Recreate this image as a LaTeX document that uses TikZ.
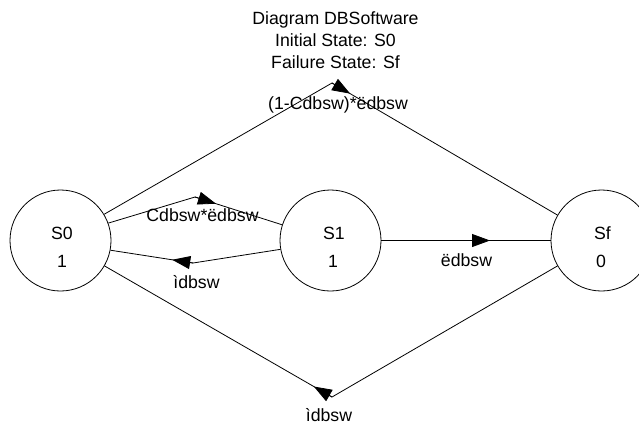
\documentclass[tikz,border=0pt]{standalone}
\usepackage{fontspec}
\setmainfont{Liberation Sans}
\usetikzlibrary{arrows.meta,calc}
\begin{document}
\begin{tikzpicture}[x=1bp,y=-1bp,
  state/.style={circle,draw,line width=0.8bp,minimum size=101bp,inner sep=0pt},
  link/.style={draw,line width=0.8bp},
  tipseg/.style={-{Triangle[length=18bp,width=13bp]},line width=0.8bp},
  lbl/.style={font=\fontsize{17.7bp}{22bp}\selectfont,inner sep=0pt,anchor=base}]
\useasboundingbox (0,0) rectangle (639,425);
\clip (0,0) rectangle (639,425);

% title block
\node[lbl] (title1) at (335.5,24.5) {Diagram DBSoftware};
\node[lbl] (title2) at (335.5,46.5) {Initial State: S0};
\node[lbl] (title3) at (335.5,68.5) {Failure State: Sf};

% states
\node[state] (s0) at (60.5,240.5) {};
\node[state] (s1) at (330.5,240.5) {};
\node[state] (sf) at (601.5,240.5) {};
\node[lbl] (s0name) at (62,239.5) {S0};
\node[lbl] (s0val)  at (62,267.5) {1};
\node[lbl] (s1name) at (334,239.5) {S1};
\node[lbl] (s1val)  at (333,267.5) {1};
\node[lbl] (sfname) at (602.5,239.5) {Sf};
\node[lbl] (sfval)  at (601,267.5) {0};

% bend points of the transitions
\coordinate (btop) at (332,83);
\coordinate (bup)  at (195,197);
\coordinate (blow) at (193,263);
\coordinate (bbot) at (332,397);
\coordinate (bmid) at ($(s1.0)!0.5!(sf.180)$);

% S0 -> Sf
\draw[link] (s0.31) -- (btop) -- (sf.150);
\draw[tipseg] (btop) -- ($(btop)!21bp!(sf.150)$);
\node[lbl] (l1) at (338,109.5) {(1-Cdbsw)*ëdbsw};

% S0 -> S1
\draw[link] (s0.20) -- (bup) -- (s1.162);
\draw[tipseg] (bup) -- ($(bup)!22bp!(s1.162)$);
\node[lbl] (l2) at (202.5,221.5) {Cdbsw*ëdbsw};

% S1 -> S0
\draw[link] (s1.190) -- (blow) -- (s0.-11);
\draw[tipseg] (blow) -- ($(blow)!21bp!(s0.-11)$);
\node[lbl] (l3) at (196.5,288.5) {ìdbsw};

% S1 -> Sf
\draw[link] (s1.0) -- (sf.180);
\draw[tipseg] (bmid) -- ($(bmid)!24bp!(sf.180)$);
\node[lbl] (l4) at (466.5,266.5) {ëdbsw};

% Sf -> S0
\draw[link] (sf.210) -- (bbot) -- (s0.-30);
\draw[tipseg] (bbot) -- ($(bbot)!21bp!(s0.-30)$);
\node[lbl] (l5) at (329,421.5) {ìdbsw};
\end{tikzpicture}
\end{document}
